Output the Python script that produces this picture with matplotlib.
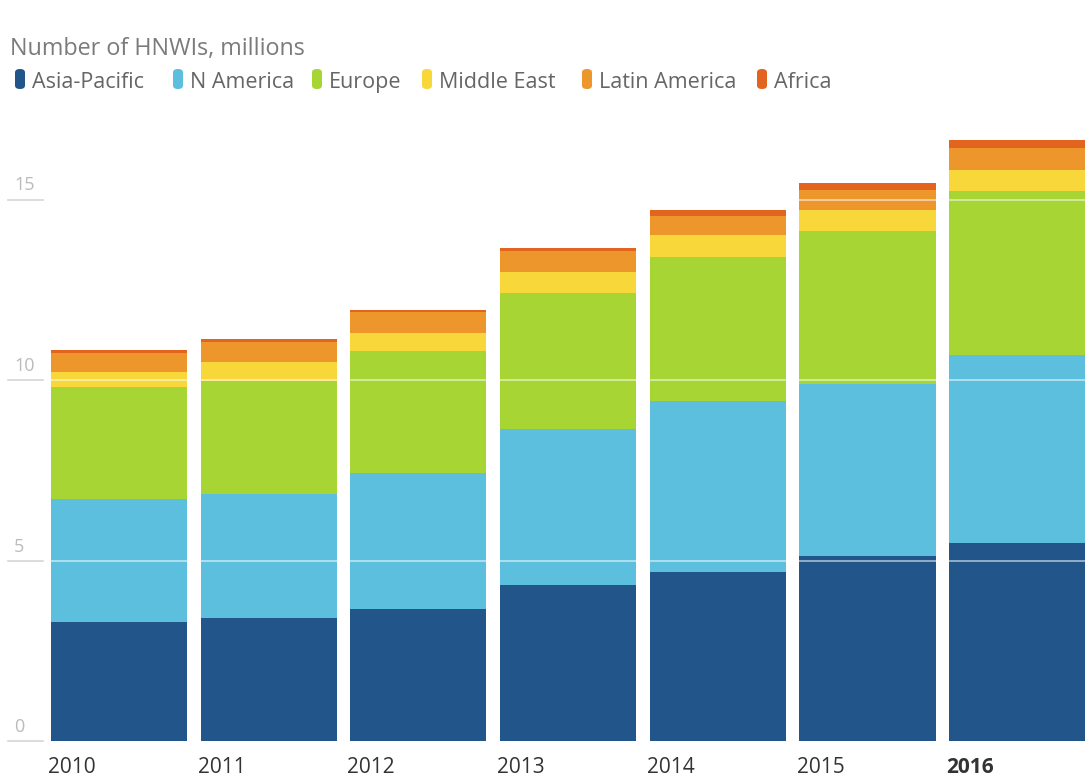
import matplotlib

matplotlib.use("Agg")
import matplotlib.pyplot as plt
import numpy as np
from matplotlib.patches import FancyBboxPatch

plt.rcParams["font.family"] = ["Open Sans", "DejaVu Sans"]

# data (millions of HNWIs)
years = ["2010", "2011", "2012", "2013", "2014", "2015", "2016"]
regions = ["Asia-Pacific", "N America", "Europe", "Middle East", "Latin America", "Africa"]
asia_pacific = [3.30, 3.42, 3.67, 4.31, 4.69, 5.12, 5.49]
n_america = [3.41, 3.42, 3.74, 4.32, 4.73, 4.78, 5.20]
europe = [3.10, 3.13, 3.40, 3.79, 4.00, 4.22, 4.55]
middle_east = [0.42, 0.54, 0.49, 0.58, 0.59, 0.60, 0.59]
latin_america = [0.51, 0.53, 0.57, 0.56, 0.54, 0.53, 0.60]
africa = [0.08, 0.10, 0.08, 0.09, 0.17, 0.21, 0.21]
y_ticks = [0, 5, 10, 15]

COLORS = ["#22568a", "#5cbfde", "#a7d533", "#f7d73a", "#ec962c", "#e2641f"]
TITLE_COLOR = "#7b7b7b"
LEGEND_COLOR = "#666666"
TEXT_COLOR = "#333333"
TICK_COLOR = "#bbbbbb"

W, H = 1090, 776
fig = plt.figure(figsize=(W / 100, H / 100), dpi=100, facecolor="white")


def px(x, y):
    """pixel (from top-left) -> figure fraction"""
    return x / W, 1 - y / H


# axes: bars from x=51 to 1085 px, y=0 at 741 px, 36.1 px per unit
y0_px, unit_px = 741, 36.1
ymax = 17.5
left, right = 51, 1085.2
bottom_frac = 1 - y0_px / H
height_frac = ymax * unit_px / H
ax = fig.add_axes([left / W, bottom_frac, (right - left) / W, height_frac])
ax.set_xlim(0, 6 + 0.9085)
ax.set_ylim(0, ymax)
ax.axis("off")

series = [asia_pacific, n_america, europe, middle_east, latin_america, africa]
x = np.arange(len(years))
base = np.zeros(len(years))
for vals, color in zip(series, COLORS):
    vals = np.array(vals)
    ax.bar(x, vals, 0.9085, bottom=base, align="edge", color=color, linewidth=0, zorder=2)
    base += vals

# light gridlines over the bars
for t in y_ticks[1:]:
    ax.axhline(t, color="white", alpha=0.55, linewidth=1.3, zorder=3)

# y labels with short grey rule at the left
for t in y_ticks:
    gy = y0_px - t * unit_px
    fig.add_artist(plt.Line2D([8 / W, 43 / W], [1 - gy / H] * 2, color="#d6d6d6", linewidth=1.2))
    fig.text(*px(14, gy - 9), str(t), color=TICK_COLOR, fontsize=13, ha="left", va="baseline")

# x labels, left aligned under each bar
for i, yr in enumerate(years):
    xl = left + i * 149.7 - 3
    fig.text(*px(xl, 773), yr, color=TEXT_COLOR, fontsize=15, ha="left", va="baseline",
             fontweight="bold" if yr == "2016" else "normal")

# title
fig.text(*px(10, 55), "Number of HNWIs, millions", color=TITLE_COLOR, fontsize=16.8, ha="left", va="baseline")

# legend
legend_x = [15, 173, 312, 422, 582, 757]
for name, color, lx in zip(regions, COLORS, legend_x):
    fx, fy = px(lx, 89)
    box = FancyBboxPatch((fx, fy), 10 / W, 20 / H, boxstyle="round,pad=0,rounding_size=0.0045",
                         transform=fig.transFigure, facecolor=color, edgecolor="none")
    fig.add_artist(box)
    fig.text(*px(lx + 17, 88), name, color=LEGEND_COLOR, fontsize=15.5, ha="left", va="baseline")

fig.savefig("out.png", dpi=100, facecolor="white")
